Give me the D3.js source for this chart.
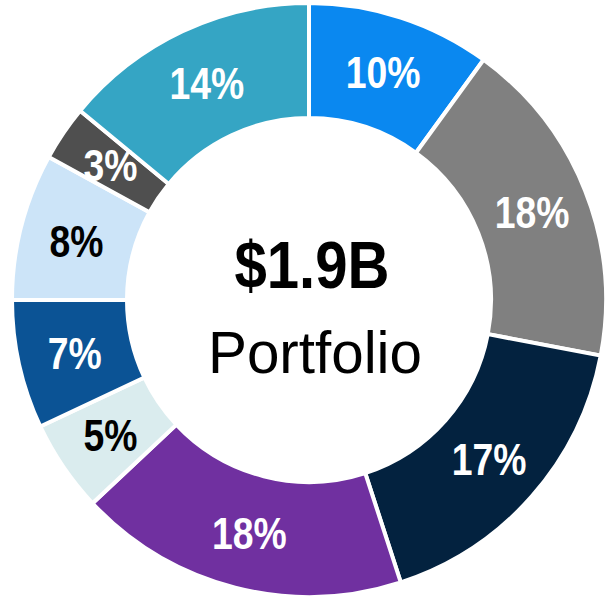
<!DOCTYPE html>
<html>
<head>
<meta charset="utf-8">
<script src="https://cdn.jsdelivr.net/npm/d3@7"></script>
<style>
  html, body { margin: 0; padding: 0; background: #ffffff; }
  svg { display: block; }
</style>
</head>
<body>
<svg id="chart" width="608" height="597"></svg>
<script>
// Data (clockwise from 12 o'clock)
const categories = ["A", "B", "C", "D", "E", "F", "G", "H", "I"];
const values = [10, 18, 17, 18, 5, 7, 8, 3, 14];
const labels = ["10%", "18%", "17%", "18%", "5%", "7%", "8%", "3%", "14%"];
const colors = ["#0a88f0", "#808080", "#03223f", "#7030a0", "#daecee", "#0b5395", "#cce4f8", "#4f4f4f", "#35a5c4"];
const labelColors = ["#ffffff", "#ffffff", "#ffffff", "#ffffff", "#000000", "#ffffff", "#000000", "#ffffff", "#ffffff"];
const centerTitle = "$1.9B";
const centerSubtitle = "Portfolio";

const svg = d3.select("#chart");
const cx = 309, cy = 300;
const outerR = 297, innerR = 182, labelR = 240;

const g = svg.append("g").attr("transform", `translate(${cx},${cy})`);

const pie = d3.pie().sort(null).value(d => d.value);
const data = categories.map((c, i) => ({ cat: c, value: values[i], label: labels[i], color: colors[i], lc: labelColors[i] }));
const arcs = pie(data);

const arc = d3.arc().innerRadius(innerR).outerRadius(outerR);
const labelArc = d3.arc().innerRadius(labelR).outerRadius(labelR);

g.selectAll("path.slice")
  .data(arcs)
  .join("path")
  .attr("class", "slice")
  .attr("d", arc)
  .attr("fill", d => d.data.color)
  .attr("stroke", "#ffffff")
  .attr("stroke-width", 4)
  .attr("stroke-linejoin", "miter");

const lab = g.selectAll("g.lab")
  .data(arcs)
  .join("g")
  .attr("class", "lab")
  .attr("transform", d => {
    const [x, y] = labelArc.centroid(d);
    return `translate(${x},${y}) scale(0.83,1)`;
  });

lab.append("text")
  .attr("text-anchor", "middle")
  .attr("dy", "0.36em")
  .attr("font-family", "'Liberation Sans', Arial, sans-serif")
  .attr("font-weight", 700)
  .attr("font-size", 45)
  .attr("fill", d => d.data.lc)
  .text(d => d.data.label);

svg.append("text")
  .attr("x", 312)
  .attr("y", 288)
  .attr("text-anchor", "middle")
  .attr("font-family", "'Liberation Sans', Arial, sans-serif")
  .attr("font-weight", 700)
  .attr("font-size", 67)
  .attr("textLength", 155)
  .attr("lengthAdjust", "spacingAndGlyphs")
  .attr("fill", "#000")
  .text(centerTitle);

svg.append("text")
  .attr("x", 315)
  .attr("y", 373)
  .attr("text-anchor", "middle")
  .attr("font-family", "'Liberation Sans', Arial, sans-serif")
  .attr("font-weight", 400)
  .attr("font-size", 60)
  .attr("textLength", 214)
  .attr("lengthAdjust", "spacingAndGlyphs")
  .attr("fill", "#000")
  .text(centerSubtitle);
</script>
</body>
</html>
